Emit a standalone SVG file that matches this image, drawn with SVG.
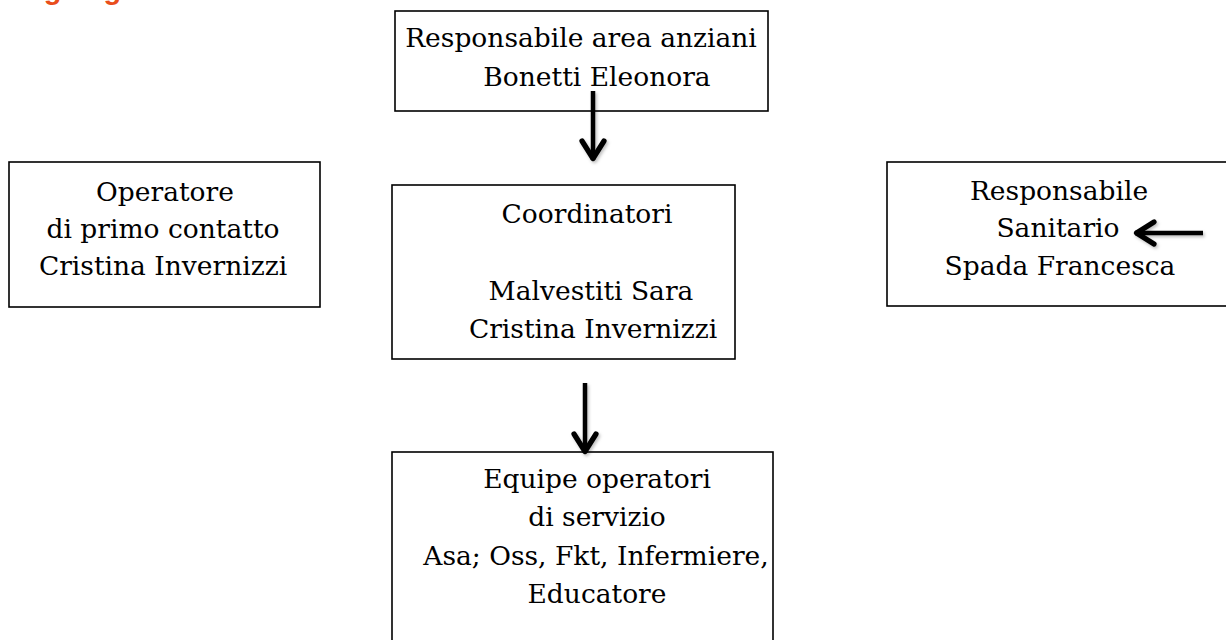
<svg xmlns="http://www.w3.org/2000/svg" width="1226" height="640" viewBox="0 0 1226 640">
<style>
  .box { fill: #ffffff; stroke: #000000; stroke-width: 1.6; }
  .t { font-family: "DejaVu Serif", "Liberation Serif", serif; font-size: 26.5px; fill: #000000; text-anchor: middle; }
  .conn { stroke: #000000; stroke-width: 4.5; fill: none; marker-end: url(#arrow); }
  .head { font-family: "Liberation Sans", Arial, sans-serif; font-weight: bold; font-size: 29px; fill: #E94E1B; }
</style>
<defs>
  <marker id="arrow" markerUnits="userSpaceOnUse" viewBox="-28 -16 32 32" refX="0" refY="0" markerWidth="32" markerHeight="32" orient="auto">
    <path d="M -19 -11 L -1.5 0 L -19 11" fill="none" stroke="#000000" stroke-width="5.2" stroke-linecap="round" stroke-linejoin="round"/>
  </marker>
  <filter id="sh" filterUnits="userSpaceOnUse" x="0" y="0" width="1226" height="640">
    <feDropShadow dx="1.5" dy="2" stdDeviation="1.5" flood-color="#000000" flood-opacity="0.25"/>
  </filter>
</defs>
<rect width="1226" height="640" fill="#ffffff"/>
<text class="head" x="10" y="-1">Organigramma</text>

<g id="node-responsabile-area">
  <rect class="box" x="395" y="11" width="373" height="100"/>
  <text class="t" x="581" y="47">Responsabile area anziani</text>
  <text class="t" x="597" y="86">Bonetti Eleonora</text>
</g>

<g id="node-operatore">
  <rect class="box" x="9" y="162" width="311" height="145"/>
  <text class="t" x="165" y="201">Operatore</text>
  <text class="t" x="163" y="238">di primo contatto</text>
  <text class="t" x="163" y="275">Cristina Invernizzi</text>
</g>

<g id="node-coordinatori">
  <rect class="box" x="392" y="185" width="343" height="174"/>
  <text class="t" x="587" y="223">Coordinatori</text>
  <text class="t" x="591" y="300">Malvestiti Sara</text>
  <text class="t" x="593" y="338">Cristina Invernizzi</text>
</g>

<g id="node-responsabile-sanitario">
  <rect class="box" x="887" y="162" width="345" height="144"/>
  <text class="t" x="1059" y="200">Responsabile</text>
  <text class="t" x="1058" y="237">Sanitario</text>
  <text class="t" x="1060" y="275">Spada Francesca</text>
</g>

<g id="node-equipe">
  <rect class="box" x="392" y="452" width="381" height="200"/>
  <text class="t" x="597" y="488">Equipe operatori</text>
  <text class="t" x="597" y="526">di servizio</text>
  <text class="t" x="596" y="565">Asa; Oss, Fkt, Infermiere,</text>
  <text class="t" x="597" y="603">Educatore</text>
</g>

<g id="connectors" filter="url(#sh)">
  <line class="conn" x1="593" y1="91" x2="593" y2="160"/>
  <line class="conn" x1="585" y1="383" x2="585" y2="453"/>
  <line class="conn" x1="1203" y1="233" x2="1135" y2="233"/>
</g>
</svg>
